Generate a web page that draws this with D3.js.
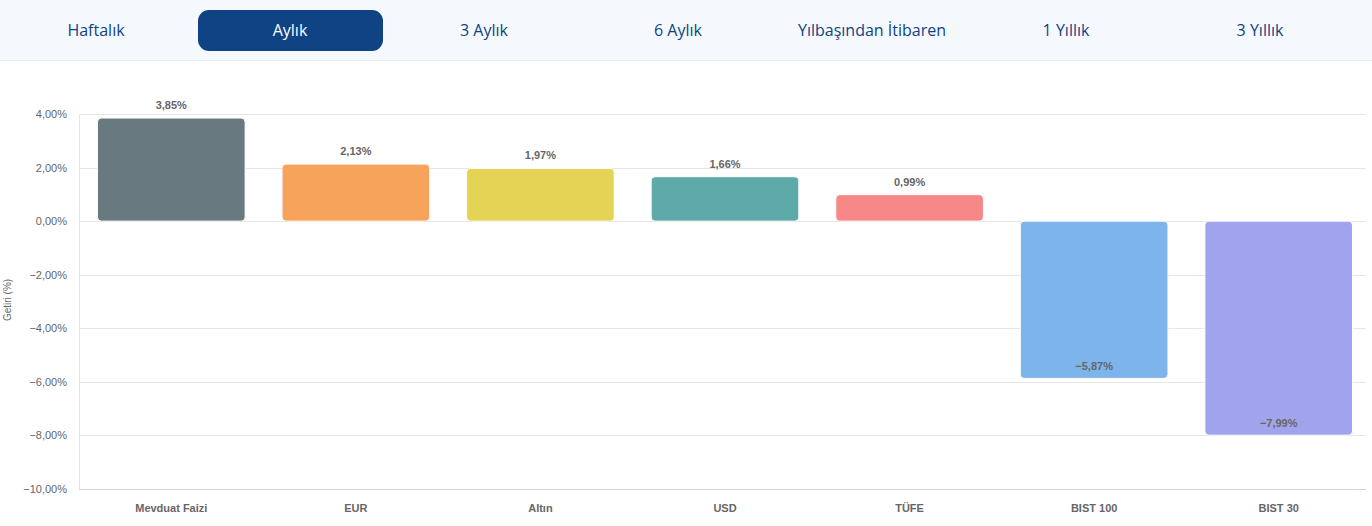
<!DOCTYPE html>
<html><head><meta charset="utf-8">
<script src="https://cdn.jsdelivr.net/npm/d3@7"></script>
<style>
body{margin:0;background:#fff;font-family:"Liberation Sans",Arial,sans-serif}
</style></head><body>
<svg id="c" width="1372" height="526"></svg>
<script>
const tabs = ["Haftalık", "Aylık", "3 Aylık", "6 Aylık", "Yılbaşından İtibaren", "1 Yıllık", "3 Yıllık"];
const activeTab = "Aylık";
const categories = ["Mevduat Faizi", "EUR", "Altın", "USD", "TÜFE", "BIST 100", "BIST 30"];
const values = [3.85, 2.13, 1.97, 1.66, 0.99, -5.87, -7.99];
const colors = ["#687980", "#f7a35c", "#e4d354", "#5eaaa8", "#f78888", "#7cb4eb", "#a0a4ec"];
const yTicks = [4, 2, 0, -2, -4, -6, -8, -10];

const svg = d3.select("#c");
const fmt = v => d3.format(".2f")(v).replace(".", ",") + "%";

// tab bar
svg.append("rect").attr("width", 1372).attr("height", 60).attr("fill", "#f5f9fd");
svg.append("line").attr("x1", 0).attr("x2", 1372).attr("y1", 60.5).attr("y2", 60.5).attr("stroke", "#e3eef9");
const tx = d3.scalePoint().domain(tabs).range([96, 1260]);
tabs.forEach(t => {
  if (t === activeTab)
    svg.append("rect").attr("x", tx(t) - 92).attr("y", 10).attr("width", 185).attr("height", 41)
      .attr("rx", 11).attr("fill", "#0f4384");
  svg.append("text").attr("x", tx(t)).attr("y", 36).attr("text-anchor", "middle")
    .attr("font-family", "'Open Sans'").attr("font-size", 16)
    .attr("fill", t === activeTab ? "#fff" : "#0f4384").text(t);
});

const x = d3.scaleBand().domain(categories).range([79, 1371]).paddingInner(0.2).paddingOuter(0.1);
const y = d3.scaleLinear().domain([-10, 4]).range([489, 114]);

const g = svg.append("g");
g.selectAll("line.grid").data(yTicks).join("line").attr("class", "grid")
  .attr("x1", 79).attr("x2", 1366).attr("y1", d => Math.round(y(d)) + 0.5).attr("y2", d => Math.round(y(d)) + 0.5)
  .attr("stroke", d => d === -10 ? "#ccd6eb" : "#e6e6e6");
g.append("line").attr("x1", 79.5).attr("x2", 79.5).attr("y1", 114).attr("y2", 489).attr("stroke", "#e6e6e6");
g.selectAll("text.yt").data(yTicks).join("text").attr("class", "yt")
  .attr("x", 67).attr("y", d => y(d) + 4).attr("text-anchor", "end")
  .attr("font-size", 11).attr("fill", "#666").text(d => fmt(d));

svg.append("text").attr("transform", "translate(11,300) rotate(-90)").attr("text-anchor", "middle")
  .attr("font-size", 10).attr("fill", "#666").text("Getiri (%)");

g.selectAll("rect.bar").data(values).join("rect").attr("class", "bar")
  .attr("x", (d, i) => x(categories[i])).attr("width", x.bandwidth())
  .attr("y", d => y(Math.max(0, d))).attr("height", d => Math.abs(y(d) - y(0)))
  .attr("rx", 4).attr("fill", (d, i) => colors[i]).attr("stroke", "#fff");

g.selectAll("text.val").data(values).join("text").attr("class", "val")
  .attr("x", (d, i) => x(categories[i]) + x.bandwidth() / 2)
  .attr("y", d => d >= 0 ? y(d) - 9 : y(d) - 8)
  .attr("text-anchor", "middle").attr("font-size", 11).attr("font-weight", "bold")
  .attr("fill", "#666").text(d => fmt(d));

g.selectAll("text.xt").data(categories).join("text").attr("class", "xt")
  .attr("x", d => x(d) + x.bandwidth() / 2).attr("y", 512).attr("text-anchor", "middle")
  .attr("font-size", 11).attr("font-weight", "bold").attr("fill", "#666").text(d => d);
</script></body></html>
